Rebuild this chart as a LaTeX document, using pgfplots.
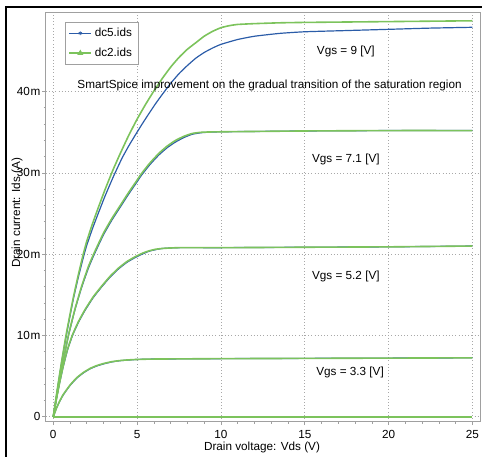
\documentclass[border=0pt]{standalone}
\usepackage{pgfplots}
\usepackage{pgfplotstable}
\pgfplotsset{compat=1.18}
\usepackage{fontspec}
\setmainfont{Liberation Sans}

\definecolor{dcblue}{HTML}{2B5CA8}
\definecolor{dcgreen}{HTML}{7CC35C}
\definecolor{framegray}{HTML}{A0A0A0}
\definecolor{gridgray}{HTML}{A8A8A8}

% Drain current (mA) against drain voltage (V), one table per gate voltage
% dc2.ids
\pgfplotstableread{
x y
0 0
0.25 3.5
0.5 6.8
0.76 10.0
1.0 12.6
1.2 14.7
1.5 17.5
1.79 20.0
2.0 21.6
2.35 23.8
2.7 25.8
3.1 28.0
3.55 30.3
4.0 32.4
4.5 34.6
5.0 36.6
5.5 38.4
5.95 39.9
6.5 41.6
7.0 43.0
7.5 44.2
8.0 45.2
8.5 46.0
9.0 46.8
9.5 47.4
10.0 47.85
10.5 48.1
11.0 48.25
12.0 48.35
13.5 48.45
15.0 48.5
20.0 48.6
25.0 48.7
}\gnine
\pgfplotstableread{
x y
0 0
0.25 3.0
0.5 5.9
0.9 10.0
1.3 13.3
1.7 16.1
2.1 18.5
2.45 20.2
3.0 22.6
3.5 24.4
4.0 26.0
4.5 27.6
5.0 29.1
5.26 29.9
5.76 31.2
6.3 32.4
6.8 33.3
7.3 34.0
7.8 34.5
8.3 34.85
8.9 35.0
10.0 35.05
12.5 35.1
15.0 35.15
20.0 35.2
25.0 35.2
}\gseven
\pgfplotstableread{
x y
0 0
0.2 2.3
0.4 4.4
0.6 6.3
0.85 8.3
1.15 10.1
1.5 11.7
1.9 13.2
2.4 14.8
2.9 16.1
3.4 17.3
3.9 18.3
4.4 19.1
4.9 19.7
5.3 20.1
5.7 20.4
6.1 20.6
6.5 20.7
7.5 20.8
10.0 20.8
15.0 20.85
20.0 20.9
25.0 21.0
}\gfive
\pgfplotstableread{
x y
0 0
0.2 1.1
0.4 2.0
0.6 2.75
1.0 3.9
1.4 4.8
1.8 5.45
2.2 5.95
2.6 6.3
3.0 6.55
3.5 6.78
4.0 6.92
4.5 7.0
5.0 7.05
6.0 7.1
10.0 7.15
17.7 7.2
25.0 7.25
}\gthree
\pgfplotstableread{
x y
0 0
25 0
}\gzero

% dc5.ids
\pgfplotstableread{
x y
0 0
0.25 3.4
0.5 6.7
0.78 10.0
1.0 12.4
1.2 14.5
1.5 17.2
1.82 19.8
2.0 21.1
2.35 23.2
2.7 25.1
3.1 27.2
3.6 29.6
4.1 31.8
4.5 33.3
4.85 34.5
5.3 36.0
5.71 37.3
6.1 38.5
6.45 39.5
7.0 41.0
7.5 42.2
8.0 43.2
8.5 44.1
9.0 44.8
9.5 45.35
10.0 45.8
11.0 46.4
12.0 46.8
13.5 47.15
15.0 47.35
17.5 47.5
20.0 47.65
22.5 47.8
25.0 47.9
}\bnine
\pgfplotstableread{
x y
0 0
0.25 3.0
0.5 5.85
0.9 9.9
1.3 13.2
1.7 15.95
2.1 18.3
2.45 20.0
3.0 22.4
3.5 24.2
4.0 25.8
4.5 27.4
5.0 28.9
5.26 29.7
5.76 31.0
6.3 32.2
6.8 33.1
7.3 33.8
7.8 34.35
8.3 34.75
8.9 34.95
10.0 35.05
12.5 35.1
15.0 35.15
20.0 35.2
25.0 35.2
}\bseven
\pgfplotstableread{
x y
0 0
0.2 2.3
0.4 4.35
0.6 6.2
0.85 8.2
1.15 10.0
1.5 11.6
1.9 13.1
2.4 14.7
2.9 16.0
3.4 17.2
3.9 18.2
4.4 19.0
4.9 19.6
5.3 20.0
5.7 20.35
6.1 20.55
6.5 20.7
7.5 20.8
10.0 20.8
15.0 20.85
20.0 20.9
25.0 21.0
}\bfive
\pgfplotstableread{
x y
0 0
0.2 1.1
0.4 1.95
0.6 2.7
1.0 3.85
1.4 4.75
1.8 5.4
2.2 5.9
2.6 6.25
3.0 6.5
3.5 6.75
4.0 6.9
4.5 6.98
5.0 7.05
6.0 7.1
10.0 7.15
17.7 7.2
25.0 7.25
}\bthree
\pgfplotstableread{
x y
0 0
25 0
}\bzero

\begin{document}
\begin{tikzpicture}[font=\fontsize{8.8}{10}\selectfont]
\useasboundingbox (0,0) rectangle (361.5pt,342.75pt);
\draw[line width=1.5pt] (4.5pt,0pt) -- (4.5pt,337.7pt) -- (361.5pt,337.7pt);
\begin{axis}[
  at={(34.28pt,26.5pt)}, anchor=south west,
  scale only axis, width=326.1pt, height=306.75pt,
  xmin=-0.45, xmax=25.48, ymin=-0.6, ymax=49.7,
  xtick={0,5,10,15,20,25},
  ytick={0,10,20,30,40},
  yticklabels={0,10\kern0.6pt m,20\kern0.6pt m,30\kern0.6pt m,40\kern0.6pt m},
  minor x tick num=4, minor y tick num=4,
  tick pos=left, tick align=outside,
  major tick length=2.5pt, minor tick length=1.6pt,
  every tick/.style={framegray, line width=0.5pt},
  axis line style={framegray, line width=0.6pt},
  grid=major,
  major grid style={gridgray, dotted, line width=0.5pt},
  tick label style={font=\fontsize{8.8}{10}\selectfont},
  /pgf/number format/assume math mode=true,
  yticklabel style={inner sep=0pt, anchor=east, xshift=-1.2pt},
  xticklabel style={inner sep=0pt, anchor=north, yshift=-3.5pt},
  legend style={at={(axis description cs:0.044,0.978)}, anchor=north west,
    draw=framegray, line width=0.5pt, font=\fontsize{8.8}{10}\selectfont,
    inner xsep=2.5pt, inner ysep=2.5pt, row sep=3pt,
    cells={anchor=west}},
  legend image code/.code={\draw[mark repeat=2,mark phase=2,#1] plot coordinates {(0pt,0pt) (8.25pt,0pt) (16.5pt,0pt)};},
  curve/.style={smooth, tension=0.3, forget plot},
]
% dc5.ids
\addplot[dcblue, line width=0.9pt, curve] table {\bnine};
\addplot[dcblue, line width=0.9pt, curve] table {\bseven};
\addplot[dcblue, line width=0.9pt, curve] table {\bfive};
\addplot[dcblue, line width=0.9pt, curve] table {\bthree};
\addplot[dcblue, line width=0.9pt, curve] table {\bzero};
% dc2.ids
\addplot[dcgreen, line width=1.2pt, curve] table {\gnine};
\addplot[dcgreen, line width=1.2pt, curve] table {\gseven};
\addplot[dcgreen, line width=1.2pt, curve] table {\gfive};
\addplot[dcgreen, line width=1.2pt, curve] table {\gthree};
\addplot[dcgreen, line width=1.2pt, curve] table {\gzero};

\addlegendimage{dcblue, line width=0.9pt, mark=asterisk, mark size=1.4pt, mark options={line width=0.5pt}}
\addlegendentry{dc5.ids}
\addlegendimage{dcgreen, line width=1.2pt, mark=triangle*, mark size=1.4pt}
\addlegendentry{dc2.ids}

\node at (axis cs:17.45,44.9) {Vgs = 9 [V]};
\node at (axis cs:12.9,40.7) {SmartSpice improvement on the gradual transition of the saturation region};
\node at (axis cs:17.45,31.6) {Vgs = 7.1 [V]};
\node at (axis cs:17.45,17.2) {Vgs = 5.2 [V]};
\node at (axis cs:17.7,5.4) {Vgs = 3.3 [V]};
\end{axis}
\node at (196.5pt,6.9pt) {Drain voltage: Vds (V)};
\node[rotate=90] at (12.75pt,183pt) {Drain current: Ids (A)};
\end{tikzpicture}
\end{document}
